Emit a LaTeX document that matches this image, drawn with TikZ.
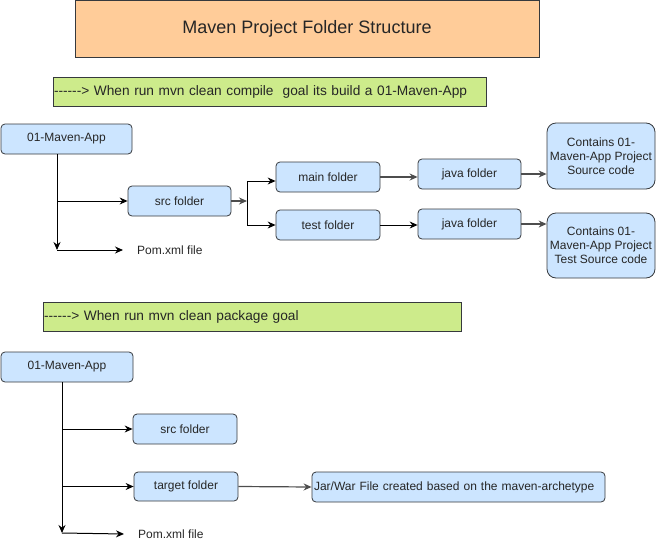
\documentclass[tikz,border=0pt]{standalone}
\usepackage{fontspec}
\setmainfont{Liberation Sans}[Ligatures=TeXOff]
\usepackage{xcolor}
\usepackage{tikz}
\usetikzlibrary{arrows.meta,positioning}

\definecolor{boxblue}{HTML}{CCE5FF}
\definecolor{boxline}{HTML}{36393D}
\definecolor{peach}{HTML}{FFCC99}
\definecolor{lime}{HTML}{CDEB8B}
\definecolor{edgegray}{HTML}{4D4D4D}

\tikzset{
    folder/.style={draw=boxline,fill=boxblue,rounded corners=4pt,line width=0.8pt,
        minimum height=30pt,inner sep=0pt,text=black!85,font=\fontsize{12}{14}\selectfont},
    bignote/.style={folder,rounded corners=9pt,align=center},
    banner/.style={draw=boxline,fill=lime,line width=0.8pt,minimum height=29pt,
        inner xsep=1pt,align=left,text=black!85,font=\fontsize{13.7}{16}\selectfont},
    plain/.style={inner sep=0pt,anchor=west,text=black!85,font=\fontsize{12}{14}\selectfont},
    link/.style={line width=1pt,-{Stealth[length=8pt,width=7pt]}},
    greylink/.style={link,draw=edgegray,line width=1.2pt}
}

\begin{document}
\begin{tikzpicture}[x=1pt,y=-1pt]
    \useasboundingbox (0,0) rectangle (656,549);

    \node[draw=boxline,fill=peach,line width=0.8pt,minimum width=464pt,minimum height=57pt,
        text=black!85,font=\fontsize{18}{20}\selectfont] (title) at (307,28.5) {Maven Project Folder Structure};
    \node[banner,text width=431pt] (goal1) at (269.5,91.5) {------> When run mvn clean compile~ goal its build a 01-Maven-App};

    \node[folder,minimum width=131pt] (app1) at (66.5,139) {01-Maven-App};
    \node[folder,minimum width=103pt] (src1) at (179.5,201) {src folder};
    \node[folder,minimum width=104pt] (main1) at (328,177) {main folder};
    \node[folder,minimum width=104pt] (test1) at (328,225) {test folder};
    \node[folder,minimum width=103pt] (java1) at (469.5,174) {java folder};
    \node[folder,minimum width=103pt] (java2) at (469.5,224) {java folder};
    \node[bignote,minimum width=108pt,minimum height=66pt] (code1) at (601,156) {Contains 01-\\Maven-App Project\\Source code};
    \node[bignote,minimum width=108pt,minimum height=65pt] (code2) at (601,245.5) {Contains 01-\\Maven-App Project\\Test Source code};
    \node[plain] (pom1) at (137,250) {Pom.xml file};
    \coordinate (down1) at (57,250);
    \coordinate (split1) at (247,201);

    \draw[link] (app1.south -| down1) -- (down1);
    \draw[link] (down1) -- ([xshift=-14pt]pom1.west);
    \draw[link] (app1.south -| down1) |- (src1.west);
    \draw[greylink] (src1.east) -- (split1);
    \draw[link] (split1) |- ([yshift=-4pt]main1.west);
    \draw[link] (split1) |- (test1.west);
    \draw[greylink] (main1.east) -- (main1.east -| java1.west);
    \draw[link] (test1.east) -- (test1.east -| java2.west);
    \draw[greylink] (java1.east) -- (java1.east -| code1.west);
    \draw[greylink] (java2.east) -- (java2.east -| code2.west);

    \node[banner,text width=416pt] (goal2) at (252,316.5) {------> When run mvn clean package goal};

    \node[folder,minimum width=132pt] (app2) at (67,367) {01-Maven-App};
    \node[folder,minimum width=104pt] (src2) at (185,429) {src folder};
    \node[folder,minimum width=104pt,minimum height=29pt] (target2) at (186,486.5) {target folder};
    \node[folder,minimum width=293pt,text width=289pt,align=left] (jar2) at (458.5,487) {Jar/War File created based on the maven-archetype};
    \node[plain] (pom2) at (138,534) {Pom.xml file};
    \coordinate (down2) at (62,533);

    \draw[link] (app2.south -| down2) -- (down2);
    \draw[link] (down2) -- ([xshift=-14pt]pom2.west);
    \draw[link] (app2.south -| down2) |- (src2.west);
    \draw[link] (app2.south -| down2) |- (target2.west);
    \draw[greylink] (target2.east) -- (jar2.west);
\end{tikzpicture}
\end{document}
